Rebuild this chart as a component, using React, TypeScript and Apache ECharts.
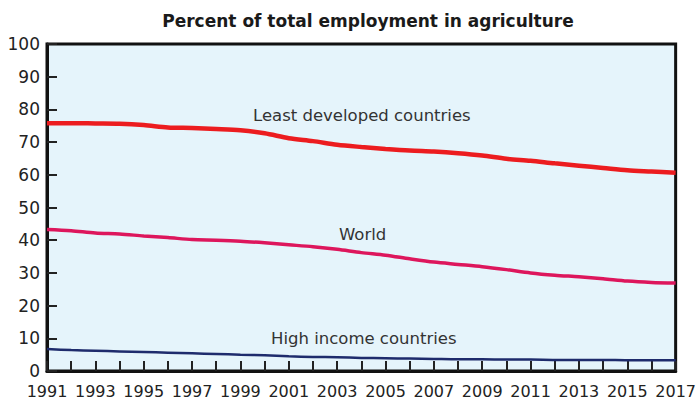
import React, { useEffect, useRef } from "react";
import * as echarts from "echarts";

const years = [
  "1991","1992","1993","1994","1995","1996","1997","1998","1999","2000",
  "2001","2002","2003","2004","2005","2006","2007","2008","2009","2010",
  "2011","2012","2013","2014","2015","2016","2017",
];
const leastDeveloped = [
  75.8, 75.8, 75.7, 75.6, 75.2, 74.5, 74.3, 74.0, 73.6, 72.7,
  71.2, 70.3, 69.2, 68.5, 67.9, 67.4, 67.1, 66.6, 65.9, 64.9,
  64.3, 63.5, 62.8, 62.1, 61.4, 61.0, 60.6,
];
const world = [
  43.3, 42.9, 42.2, 41.9, 41.3, 40.8, 40.2, 40.0, 39.7, 39.2,
  38.6, 38.0, 37.2, 36.2, 35.4, 34.3, 33.3, 32.6, 31.9, 31.0,
  30.0, 29.3, 28.8, 28.2, 27.5, 27.1, 26.9,
];
const highIncome = [
  6.7, 6.4, 6.2, 6.0, 5.8, 5.6, 5.4, 5.2, 5.0, 4.8,
  4.5, 4.3, 4.2, 4.0, 3.9, 3.8, 3.7, 3.6, 3.6, 3.5,
  3.5, 3.4, 3.4, 3.4, 3.3, 3.3, 3.3,
];
const seriesNames = ["Least developed countries", "World", "High income countries"];
const title = "Percent of total employment in agriculture";

const FONT = "'DejaVu Sans', 'Noto Sans', sans-serif";

export default function App() {
  const ref = useRef<HTMLDivElement>(null);
  useEffect(() => {
    if (!ref.current) return;
    const chart = echarts.init(ref.current, null, { renderer: "svg" });
    const lineSeries = (name: string, data: number[], color: string, width: number) => ({
      name,
      type: "line",
      data,
      smooth: 0.3,
      symbol: "none",
      lineStyle: { color, width },
    });
    chart.setOption({
      animation: false,
      backgroundColor: "#ffffff",
      title: {
        text: title,
        left: 363,
        top: 7,
        textAlign: "center",
        textStyle: { fontFamily: FONT, fontSize: 17, fontWeight: "bold", color: "#1a1a1a" },
      },
      grid: {
        left: 47,
        right: 20,
        top: 44,
        bottom: 33,
        show: true,
        backgroundColor: "#e5f4fb",
        borderColor: "#111111",
        borderWidth: 3,
      },
      xAxis: {
        type: "category",
        data: years,
        boundaryGap: false,
        axisLine: { lineStyle: { color: "#111111", width: 3 } },
        axisTick: { show: true, inside: true, length: 10, interval: 0, lineStyle: { color: "#222", width: 2 } },
        axisLabel: {
          interval: 1,
          margin: 12,
          fontFamily: FONT,
          fontSize: 16,
          color: "#222222",
          showMaxLabel: true,
        },
        splitLine: { show: false },
      },
      yAxis: {
        type: "value",
        min: 0,
        max: 100,
        interval: 10,
        axisLine: { show: true, lineStyle: { color: "#111111", width: 3 } },
        axisTick: { show: true, inside: true, length: 10, lineStyle: { color: "#222", width: 2 } },
        axisLabel: { fontFamily: FONT, fontSize: 17, color: "#222222", margin: 7 },
        splitLine: { show: false },
      },
      series: [
        lineSeries(seriesNames[0], leastDeveloped, "#ec1c1f", 4.5),
        lineSeries(seriesNames[1], world, "#dd165c", 3.5),
        lineSeries(seriesNames[2], highIncome, "#1e2b6c", 2.5),
      ],
      graphic: [
        { type: "text", left: 253, top: 107, style: { text: seriesNames[0], fontFamily: FONT, fontSize: 16.5, fill: "#333333" } },
        { type: "text", left: 339, top: 226, style: { text: seriesNames[1], fontFamily: FONT, fontSize: 16.5, fill: "#333333" } },
        { type: "text", left: 271, top: 330, style: { text: seriesNames[2], fontFamily: FONT, fontSize: 16.5, fill: "#333333" } },
      ],
    });
    return () => chart.dispose();
  }, []);
  return (
    <div
      ref={ref}
      style={{ position: "absolute", left: 0, top: 0, width: 699, height: 404 }}
    />
  );
}
